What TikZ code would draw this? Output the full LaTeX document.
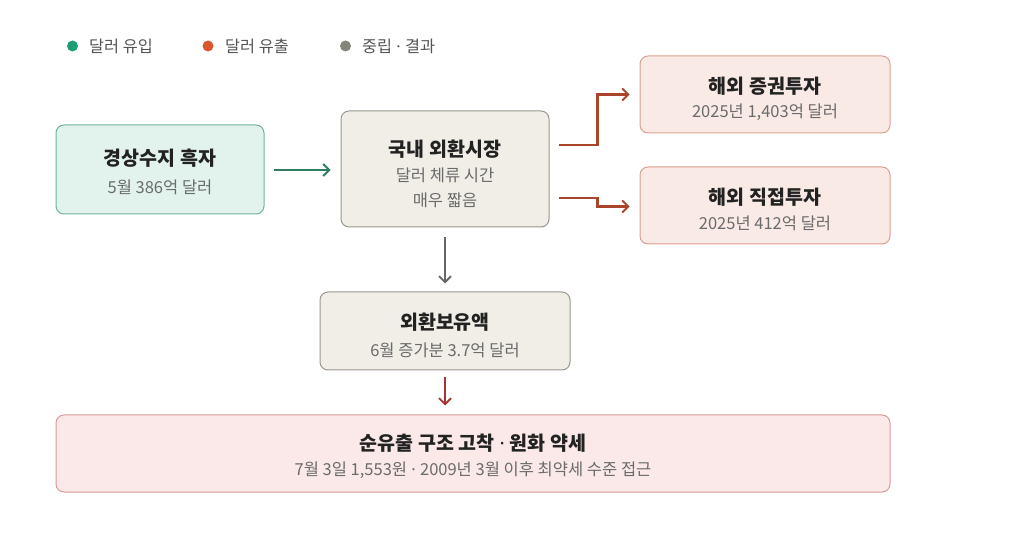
\documentclass[tikz,border=0pt]{standalone}
\usepackage{fontspec}
\setmainfont{Noto Sans CJK KR}
\newfontfamily\latinf{Noto Sans}
\newcommand{\mdot}{{\latinf\ ·\ }}
\usetikzlibrary{arrows.meta}
\definecolor{mintfill}{HTML}{E1F3EC}
\definecolor{mintdraw}{HTML}{6FB39A}
\definecolor{grayfill}{HTML}{F1EEE8}
\definecolor{graydraw}{HTML}{9A9790}
\definecolor{peachfill}{HTML}{FAEAE5}
\definecolor{peachdraw}{HTML}{D9A08F}
\definecolor{pinkfill}{HTML}{FBE9E9}
\definecolor{pinkdraw}{HTML}{D79A9A}
\definecolor{greenarr}{HTML}{2E7D5E}
\definecolor{brownarr}{HTML}{A9452A}
\definecolor{grayarr}{HTML}{666666}
\definecolor{redarr}{HTML}{A83232}
\definecolor{dotgreen}{HTML}{1E9E75}
\definecolor{dotorange}{HTML}{D9572E}
\definecolor{dotgray}{HTML}{85857C}
\definecolor{titlecol}{HTML}{222222}
\definecolor{subcol}{HTML}{6B6B6B}
\definecolor{legcol}{HTML}{555555}
\tikzset{
  box/.style={rectangle, rounded corners=8pt, line width=1pt, align=center, inner sep=0pt},
  ttl/.style={font=\fontsize{19.5}{22}\selectfont\bfseries, text=titlecol},
  sub/.style={font=\fontsize{16.5}{20}\selectfont, text=subcol},
  leg/.style={font=\fontsize{16.3}{20}\selectfont, text=legcol, anchor=west, inner sep=0pt},
  dot/.style={circle, inner sep=0pt, minimum size=11pt},
  arr/.style={line width=2.1pt, -{Straight Barb[length=6pt,width=12pt,line width=1.8pt]}},
}
\begin{document}
\begin{tikzpicture}[x=1pt,y=1pt]
\useasboundingbox (0,0) rectangle (1024,543);
% legend
\node[dot, fill=dotgreen] (l1) at (72.5,497) {};
\node[leg] (l1t) at (89,497) {달러 유입};
\node[dot, fill=dotorange] (l2) at (208,497) {};
\node[leg] (l2t) at (225,497) {달러 유출};
\node[dot, fill=dotgray] (l3) at (345.5,497) {};
\node[leg] (l3t) at (362,497) {중립\mdot 결과};
% boxes
\node[box, fill=mintfill, draw=mintdraw, minimum width=208pt, minimum height=89pt] (A) at (160,373.5) {};
\node[ttl] (At) at (160,385) {경상수지 흑자};
\node[sub] (As) at (160,356) {5월 386억 달러};

\node[box, fill=grayfill, draw=graydraw, minimum width=208pt, minimum height=116pt] (B) at (445,374) {};
\node[ttl] (Bt) at (445,394) {국내 외환시장};
\node[sub] (Bs1) at (445,368) {달러 체류 시간};
\node[sub] (Bs2) at (445,343) {매우 짧음};

\node[box, fill=peachfill, draw=peachdraw, minimum width=250pt, minimum height=77pt] (C) at (765,448.5) {};
\node[ttl] (Ct) at (765,457) {해외 증권투자};
\node[sub] (Cs) at (765,431) {2025년 1,403억 달러};

\node[box, fill=peachfill, draw=peachdraw, minimum width=250pt, minimum height=77pt] (D) at (765,337.5) {};
\node[ttl] (Dt) at (765,346) {해외 직접투자};
\node[sub] (Ds) at (765,320) {2025년 412억 달러};

\node[box, fill=grayfill, draw=graydraw, minimum width=250pt, minimum height=78pt] (E) at (445,212) {};
\node[ttl] (Et) at (445,221) {외환보유액};
\node[sub] (Es) at (445,193) {6월 증가분 3.7억 달러};

\node[box, fill=pinkfill, draw=pinkdraw, minimum width=834pt, minimum height=77pt] (F) at (473,89.5) {};
\node[ttl] (Ft) at (473,100) {순유출 구조 고착\mdot 원화 약세};
\node[sub] (Fs) at (473,73) {7월 3일 1,553원\mdot 2009년 3월 이후 최약세 수준 접근};
% arrows
\draw[arr, draw=greenarr] ([xshift=9pt]A.east |- 0,373) -- ([xshift=-10pt]B.west |- 0,373);
\draw[arr, draw=brownarr] ([xshift=9pt,yshift=24pt]B.east) -- ++(39,0) |- ([xshift=-10pt]C.west);
\draw[arr, draw=brownarr] ([xshift=9pt,yshift=-29pt]B.east) -- ++(39,0) |- ([xshift=-10pt,yshift=-1pt]D.west);
\draw[arr, draw=grayarr] ([yshift=-10pt]B.south) -- ([yshift=8pt]E.north);
\draw[arr, draw=redarr] ([yshift=-7pt]E.south) -- ([yshift=9pt]E.south |- F.north);
\end{tikzpicture}
\end{document}
